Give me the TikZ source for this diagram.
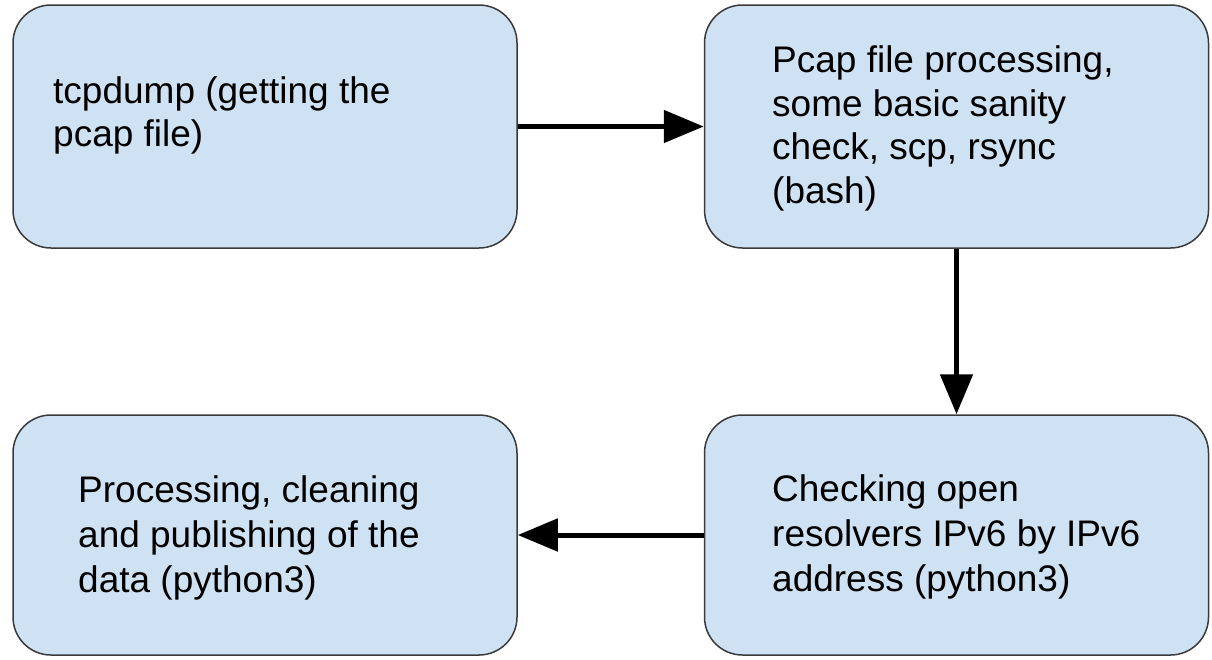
\documentclass[tikz,border=0pt]{standalone}
\usepackage{fontspec}
\setmainfont{Liberation Sans}
\usetikzlibrary{arrows.meta}
\definecolor{boxfill}{HTML}{CFE2F3}
\definecolor{boxline}{HTML}{3A3A3A}
\tikzset{
  stagebox/.style={draw=boxline,line width=1.5pt,fill=boxfill,rounded corners=38pt,inner sep=0pt,minimum width=504pt},
  stagetext/.style={anchor=base west,inner sep=0pt,font=\fontsize{37.0}{44.0}\selectfont},
  flow/.style={line width=5pt,-{Triangle[length=40pt,width=32pt]}}
}
\begin{document}
\begin{tikzpicture}[x=1pt,y=-1pt]
\path[use as bounding box] (0,0) rectangle (1212.0,659.0);
\node[stagebox,minimum height=243pt] (capture) at (265,126.5) {};
\node[stagebox,minimum height=243pt] (pcapproc) at (956.5,126.5) {};
\node[stagebox,minimum height=240pt] (resolvers) at (956.5,535) {};
\node[stagebox,minimum height=240pt] (publish) at (265,535) {};
\node[stagetext] (captureA) at (53,103) {tcpdump (getting the};
\node[stagetext] (captureB) at (53,146) {pcap file)};
\node[stagetext] (pcapprocA) at (772,72) {Pcap file processing,};
\node[stagetext] (pcapprocB) at (772,116) {some basic sanity};
\node[stagetext] (pcapprocC) at (772,159) {check, scp, rsync};
\node[stagetext] (pcapprocD) at (772,203) {(bash)};
\node[stagetext] (resolversA) at (772,501) {Checking open};
\node[stagetext] (resolversB) at (772,546) {resolvers IPv6 by IPv6};
\node[stagetext] (resolversC) at (772,591) {address (python3)};
\node[stagetext] (publishA) at (78,502) {Processing, cleaning};
\node[stagetext] (publishB) at (78,547) {and publishing of the};
\node[stagetext] (publishC) at (78,592) {data (python3)};
\draw[flow] (capture.east) -- (pcapproc.west);
\draw[flow] (pcapproc.south) -- (resolvers.north);
\draw[flow] (resolvers.west) -- (publish.east);
\end{tikzpicture}
\end{document}
